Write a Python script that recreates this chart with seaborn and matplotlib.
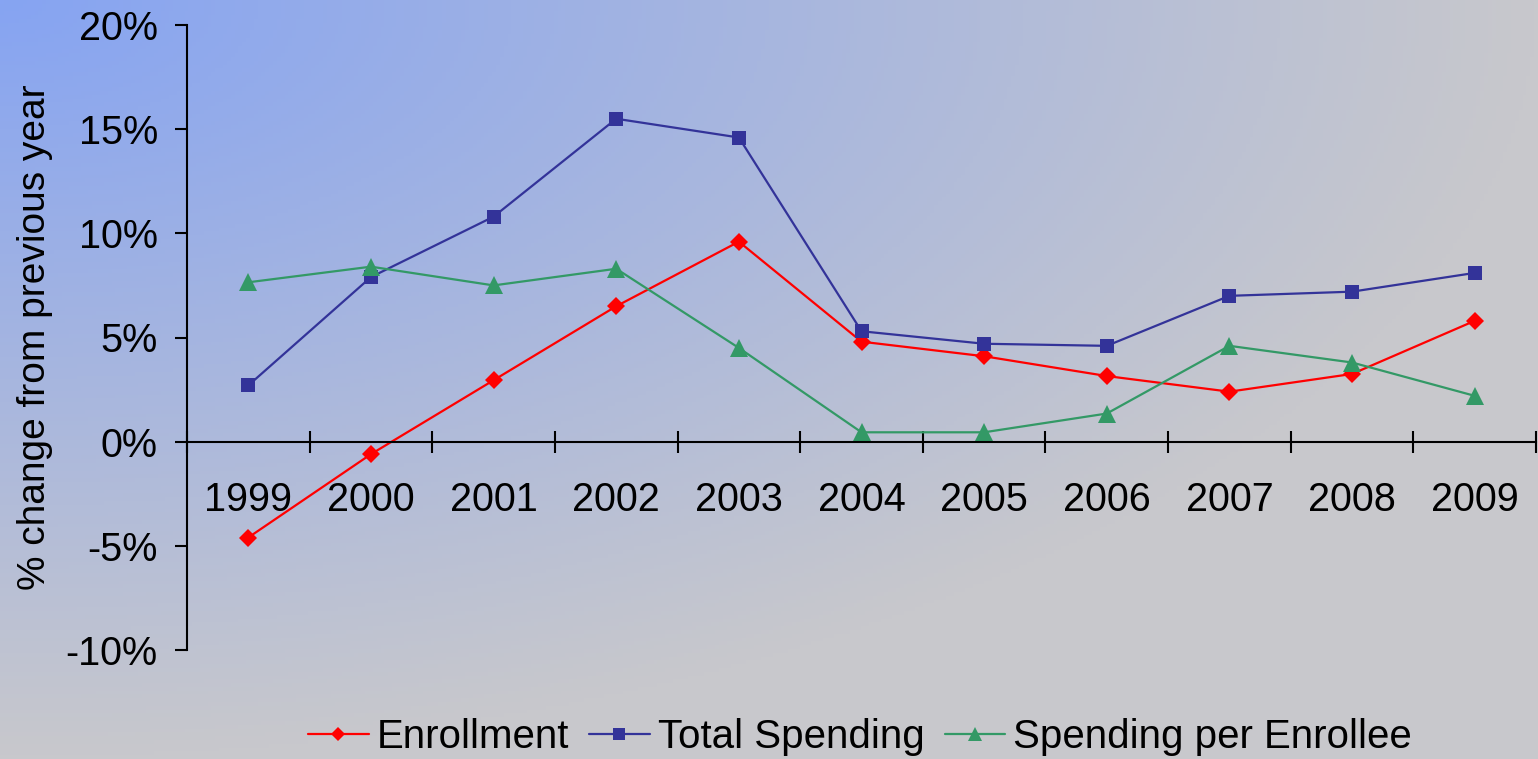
import numpy as np
import pandas as pd
import matplotlib
matplotlib.use("Agg")
import matplotlib.pyplot as plt
import seaborn as sns
from matplotlib.ticker import FixedLocator, FuncFormatter

years = ["1999", "2000", "2001", "2002", "2003", "2004", "2005", "2006", "2007", "2008", "2009"]
enrollment = [-4.6, -0.6, 2.95, 6.5, 9.6, 4.8, 4.1, 3.15, 2.4, 3.25, 5.8]
total_spending = [2.7, 7.9, 10.8, 15.5, 14.6, 5.3, 4.7, 4.6, 7.0, 7.2, 8.1]
spending_per_enrollee = [7.65, 8.4, 7.5, 8.3, 4.5, 0.45, 0.45, 1.35, 4.6, 3.8, 2.2]
series_names = ["Enrollment", "Total Spending", "Spending per Enrollee"]
y_ticks = [-10, -5, 0, 5, 10, 15, 20]

sns.set_theme(style="white")
plt.rcParams['font.family'] = ['Liberation Sans', 'DejaVu Sans']
plt.rcParams['text.color'] = 'black'
plt.rcParams['axes.labelcolor'] = 'black'
plt.rcParams['xtick.color'] = 'black'
plt.rcParams['ytick.color'] = 'black'

df = pd.DataFrame({
    "idx": list(range(len(years))) * 3,
    "value": enrollment + total_spending + spending_per_enrollee,
    "series": [series_names[0]] * len(years) + [series_names[1]] * len(years) + [series_names[2]] * len(years),
})

W, H = 1538, 759
fig = plt.figure(figsize=(W / 100, H / 100), dpi=100)

# background gradient
bg = fig.add_axes([0, 0, 1, 1], zorder=-10)
xx, yy = np.meshgrid(np.linspace(0, 1, 400), np.linspace(0, 1, 200))
t = np.clip(np.sqrt(xx ** 2 + yy ** 2), 0, 1)
c0 = np.array([0x86, 0xa4, 0xf2]) / 255
c1 = np.array([0xc8, 0xc8, 0xcc]) / 255
img = c0[None, None, :] * (1 - t[..., None]) + c1[None, None, :] * t[..., None]
bg.imshow(img, aspect="auto", extent=[0, 1, 1, 0])
bg.set_xlim(0, 1); bg.set_ylim(1, 0)
bg.axis("off")

ax = fig.add_axes([187 / W, 1 - 650 / H, (1536 - 187) / W, (650 - 25) / H])
ax.patch.set_alpha(0)

palette = {"Enrollment": "#ff0000", "Total Spending": "#333399", "Spending per Enrollee": "#339966"}
markers = {"Enrollment": "D", "Total Spending": "s", "Spending per Enrollee": "^"}
msizes = {"Enrollment": 9.5, "Total Spending": 10, "Spending per Enrollee": 12.5}

for name in series_names:
    sub = df[df["series"] == name]
    sns.lineplot(data=sub, x="idx", y="value", color=palette[name], marker=markers[name],
                 markersize=msizes[name], markeredgewidth=0, linewidth=1.6, ax=ax, label=name)

ax.set_xlim(-0.5, len(years) - 0.5)
ax.set_ylim(-10, 20)

for s in ["top", "right"]:
    ax.spines[s].set_visible(False)
ax.spines["bottom"].set_position(("data", 0))
ax.spines["bottom"].set_linewidth(1.5)
ax.spines["left"].set_linewidth(1.5)
ax.spines["bottom"].set_color("black")
ax.spines["left"].set_color("black")

ax.yaxis.set_major_locator(FixedLocator(y_ticks))
ax.yaxis.set_major_formatter(FuncFormatter(lambda v, p: f"{int(v)}%"))
ax.tick_params(axis="y", which="major", left=True, direction="out", length=9, width=1.5,
               labelsize=28.5, pad=12, color="black", labelcolor="black")

ax.xaxis.set_major_locator(FixedLocator(np.arange(-0.5, len(years), 1.0)))
ax.xaxis.set_major_formatter(FuncFormatter(lambda v, p: ""))
ax.xaxis.set_minor_locator(FixedLocator(np.arange(len(years))))
ax.xaxis.set_minor_formatter(FuncFormatter(lambda v, p: years[int(round(v))] if 0 <= round(v) < len(years) else ""))
ax.tick_params(axis="x", which="major", bottom=True, direction="inout", length=16, width=1.5, color="black")
ax.tick_params(axis="x", which="minor", bottom=True, length=0, labelsize=28.5, pad=28, labelcolor="black")

ax.set_xlabel("")
ax.set_ylabel("% change from previous year", fontsize=28, labelpad=9, color="black")

handles, labels = ax.get_legend_handles_labels()
leg = ax.legend(handles, labels, loc="center", bbox_to_anchor=(860 / W, 1 - 737 / H),
                bbox_transform=fig.transFigure, ncol=3, frameon=False, fontsize=29,
                handlelength=1.5, handletextpad=0.2, columnspacing=0.5, markerscale=0.8)
for txt in leg.get_texts():
    txt.set_color("black")

fig.savefig("out.png", dpi=100)
